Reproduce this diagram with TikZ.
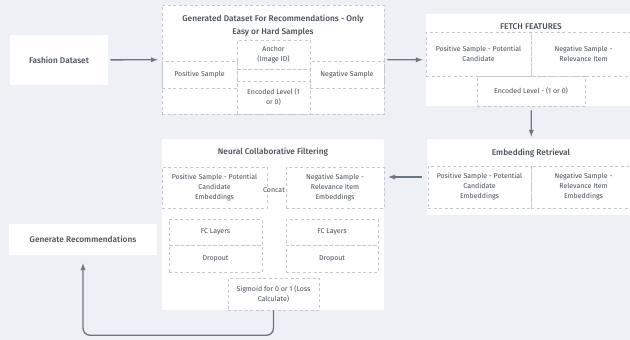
\documentclass[tikz,border=0pt]{standalone}
\usepackage{fontspec}
\setmainfont{Fira Sans}
\newfontfamily\medfamily{Fira Sans Medium}
\usepackage{tikz}
\definecolor{bgcol}{HTML}{EDF1F5}
\definecolor{txtcol}{HTML}{474E56}
\definecolor{dashcol}{HTML}{C4C9CF}
\definecolor{linecol}{HTML}{6B7685}
\newcommand{\titlefont}{\medfamily\fontsize{8.3}{12.5}\selectfont}
\newcommand{\cellfont}{\fontsize{7}{10}\selectfont}
\tikzset{> = latex, every picture/.style={line width=0.7pt}}

\begin{document}
\begin{tikzpicture}[x=1pt,y=-1pt]
\useasboundingbox (0,0) rectangle (630,340);
\clip (0,0) rectangle (630,340);
\fill[bgcol] (0,0) rectangle (630,340);

% white panels and their titles
\begin{scope}[every node/.style={fill=white,inner sep=0pt,text=txtcol,font=\titlefont,align=center}]
\node (fashion) [minimum width=98pt,minimum height=50pt] at (59,60) {Fashion Dataset};
\node (gendata) [draw=dashcol,line width=0.5pt,dash pattern=on 3pt off 2.5pt,minimum width=222pt,minimum height=109pt] at (273,59.5) {};
\node (gentitle) at (273,25.5) {Generated Dataset For Recommendations - Only\\Easy or Hard Samples};
\node (fetch) [minimum width=210pt,minimum height=92pt] at (531,60) {};
\node (fetchtitle) at (531,27) {FETCH FEATURES};
\node (embret) [minimum width=209pt,minimum height=76pt] at (531.5,177) {};
\node (embtitle) at (531,153) {Embedding Retrieval};
\node (ncf) [minimum width=222pt,minimum height=171pt] at (273,224.5) {};
\node (ncftitle) at (273,152) {Neural Collaborative Filtering};
\node (genrec) [minimum width=148pt,minimum height=31pt] at (83,239.5) {Generate Recommendations};
\end{scope}

% dashed cells
\begin{scope}[every node/.style={draw=dashcol,line width=0.5pt,dash pattern=on 3pt off 2.5pt,inner sep=0pt,text=txtcol,font=\cellfont,align=center}]
\node (anchor) [minimum width=73pt,minimum height=29pt] at (273.5,54.5) {Anchor\\(Image ID)};
\node (midcell) [minimum width=73pt,minimum height=12pt] at (273.5,75) {};
\node (enclevel) [minimum width=73pt,minimum height=33pt] at (273.5,97.5) {Encoded Level (1\\or 0)};
\node (possample) [minimum width=75pt,minimum height=27pt] at (199.5,74.5) {Positive Sample};
\node (negsample) [minimum width=74pt,minimum height=27pt] at (347,74.5) {Negative Sample};

\node (fpos) [minimum width=105pt,minimum height=44pt] at (478.5,54) {Positive Sample - Potential\\Candidate};
\node (fneg) [minimum width=105pt,minimum height=44pt] at (583.5,54) {Negative Sample -\\Relevance Item};
\node (fenc) [minimum width=108pt,minimum height=30pt] at (531,91) {Encoded Level - (1 or 0)};

\node (epos) [minimum width=103pt,minimum height=42pt] at (479.5,187) {Positive Sample - Potential\\Candidate\\Embeddings};
\node (eneg) [minimum width=105pt,minimum height=42pt] at (583.5,187) {Negative Sample -\\Relevance Item\\Embeddings};

\node (npos) [minimum width=105pt,minimum height=41pt] at (214.5,187.5) {Positive Sample - Potential\\Candidate\\Embeddings};
\node (nneg) [minimum width=98pt,minimum height=41pt] at (335,187.5) {Negative Sample -\\Relevance Item\\Embeddings};
\node (fcleft) [minimum width=93pt,minimum height=26pt] at (215.5,232) {FC Layers};
\node (dropleft) [minimum width=93pt,minimum height=27pt] at (215.5,258.5) {Dropout};
\node (fcright) [minimum width=92pt,minimum height=26pt] at (332,232) {FC Layers};
\node (dropright) [minimum width=92pt,minimum height=27pt] at (332,258.5) {Dropout};
\node (sigmoid) [minimum width=91pt,minimum height=32pt] at (273.5,294) {Sigmoid for 0 or 1 (Loss\\Calculate)};
\end{scope}
\node (concat) [text=txtcol,font=\cellfont,inner sep=0pt] at (274,190) {Concat};

% connectors
\begin{scope}[every edge/.style={draw=linecol,line width=1.3pt}]
    \path [->] (fashion) edge [shorten <=2pt,shorten >=4pt] (gendata);
    \path [->] (gendata) edge [shorten <=3pt,shorten >=3pt] (fetch);
    \path [->] (fetch) edge [shorten <=4pt,shorten >=2pt] (embret);
    \path [->] (embret.west) edge [shorten <=5pt,shorten >=4pt] (embret.west -| ncf.east);
\end{scope}
\draw [->,draw=linecol,line width=1.3pt,rounded corners=7pt,shorten >=8pt] (sigmoid.south) -- ++(0,25) -| (genrec.south);
\end{tikzpicture}
\end{document}
